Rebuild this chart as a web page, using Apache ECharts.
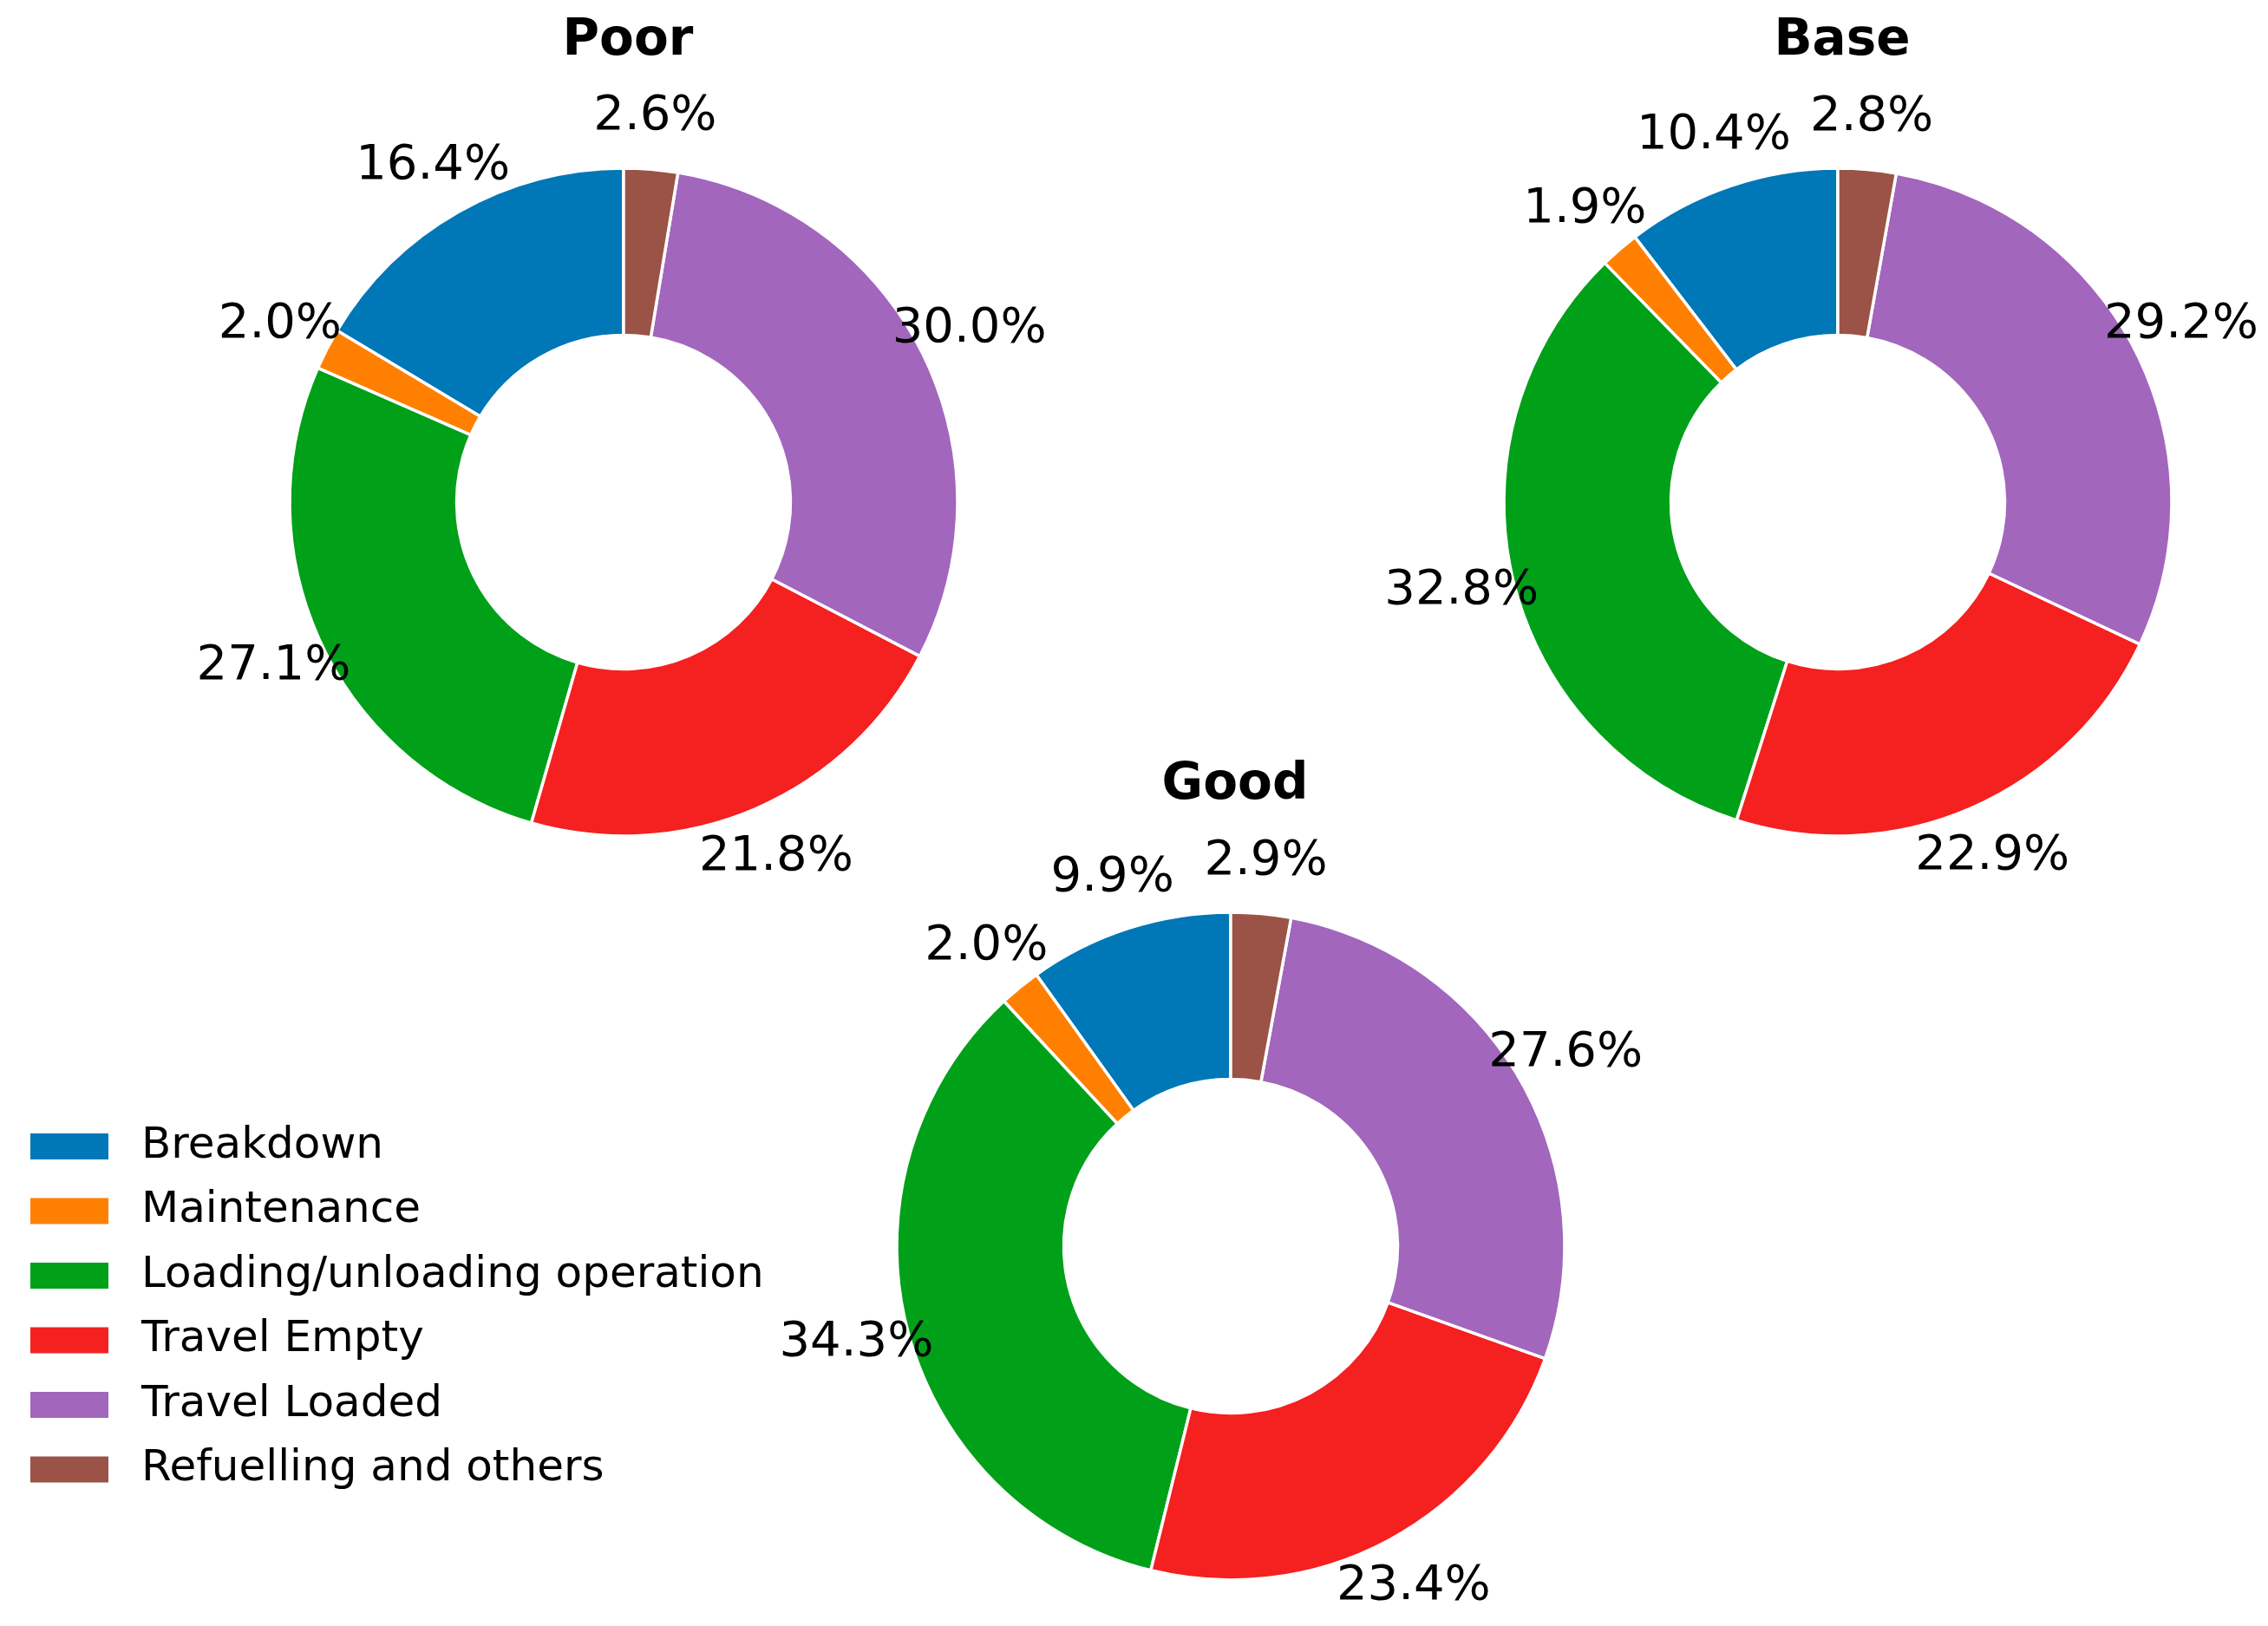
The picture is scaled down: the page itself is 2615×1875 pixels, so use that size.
<!DOCTYPE html>
<html>
<head>
<meta charset="utf-8">
<script src="https://cdn.jsdelivr.net/npm/echarts@6/dist/echarts.min.js"></script>
<style>
  html, body { margin: 0; padding: 0; background: #fff; }
  #chart { width: 2615px; height: 1875px; }
</style>
</head>
<body>
<div id="chart"></div>
<script>
// 类别
var categories = ['Breakdown', 'Maintenance', 'Loading/unloading operation', 'Travel Empty', 'Travel Loaded', 'Refuelling and others'];
var colors = ['#0077b6', '#ff8000', '#00a019', '#f52020', '#a266bd', '#9a5346'];

// 各情景百分比
var scenarios = ['Poor', 'Base', 'Good'];
var poorValues = [16.4, 2.0, 27.1, 21.8, 30.0, 2.6];
var baseValues = [10.4, 1.9, 32.8, 22.9, 29.2, 2.8];
var goodValues = [9.9, 2.0, 34.3, 23.4, 27.6, 2.9];

var chart = echarts.init(document.getElementById('chart'));

var R = 385;
var centers = [[719, 579], [2119, 579], [1419, 1437]];
var allValues = [poorValues, baseValues, goodValues];

function toData(vals) {
    var res = [];
    for (var i = 0; i < vals.length; i++) {
        res.push({name: categories[i], value: vals[i]});
    }
    return res;
}

var series = [];
var titles = [];
for (var k = 0; k < scenarios.length; k++) {
    // 环形
    series.push({
        name: scenarios[k],
        type: 'pie',
        center: centers[k],
        radius: [R * 0.5, R],
        startAngle: 90,
        clockwise: false,
        silent: true,
        itemStyle: {borderColor: '#fff', borderWidth: 3.5},
        label: {show: false},
        labelLine: {show: false},
        data: toData(allValues[k])
    });
    // 透明外圈只用来放百分比标签
    series.push({
        name: scenarios[k] + '_lbl',
        type: 'pie',
        center: centers[k],
        radius: [R, R * 1.3],
        startAngle: 90,
        clockwise: false,
        silent: true,
        itemStyle: {color: 'rgba(0,0,0,0)'},
        label: {
            show: true,
            position: 'inside',
            color: '#000',
            fontFamily: 'DejaVu Sans',
            fontSize: 56,
            formatter: function (p) { return p.value.toFixed(1) + '%'; }
        },
        labelLine: {show: false},
        emphasis: {disabled: true},
        data: toData(allValues[k])
    });
    titles.push({
        text: scenarios[k],
        left: centers[k][0],
        top: centers[k][1] - R - 180,
        textAlign: 'center',
        textStyle: {fontFamily: 'DejaVu Sans', fontWeight: 'bold', fontSize: 58, color: '#000'}
    });
}

var option = {
    animation: false,
    color: colors,
    title: titles,
    legend: {
        orient: 'vertical',
        left: 28,
        top: 1292,
        icon: 'rect',
        itemWidth: 92,
        itemHeight: 32,
        itemGap: 24.5,
        data: categories,
        textStyle: {fontFamily: 'DejaVu Sans', fontSize: 50, color: '#000', padding: [0, 0, 0, 32]}
    },
    series: series
};
chart.setOption(option);
</script>
</body>
</html>
